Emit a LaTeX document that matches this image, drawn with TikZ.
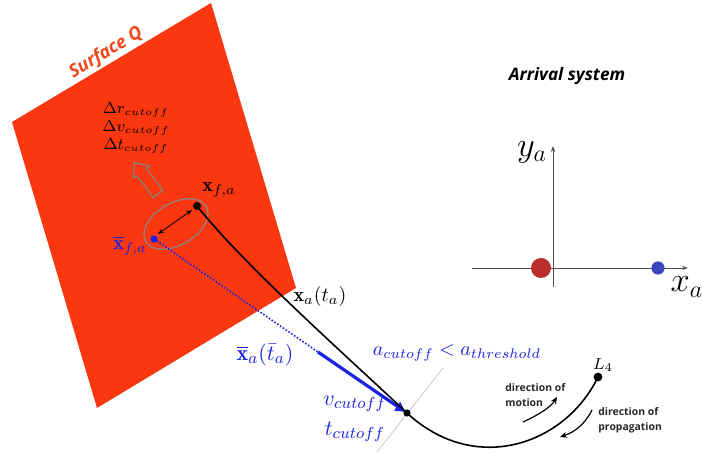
\documentclass[tikz,border=0pt]{standalone}
\usepackage{fontspec}
\usepackage{amsmath}
\newfontfamily\osans{Open Sans}
\usetikzlibrary{arrows.meta}
\definecolor{surf}{RGB}{250,55,15}
\definecolor{surftxt}{RGB}{240,70,25}
\definecolor{lblue}{RGB}{25,35,225}
\definecolor{dred}{RGB}{185,45,45}
\definecolor{dotblue}{RGB}{60,70,190}
\tikzset{
  lbl/.style={inner sep=0pt},
  bluelbl/.style={inner sep=0pt,text=lblue},
  sanslbl/.style={inner sep=0pt,align=left,text={rgb,255:red,40;green,40;blue,40},font=\osans\bfseries\fontsize{5.2}{7.4}\selectfont},
  axis/.style={draw={rgb,255:red,80;green,80;blue,80},line width=0.45pt,-{Stealth[length=3pt,width=2.2pt]}},
  dirarrow/.style={draw=black,line width=0.6pt,-{Stealth[length=3.5pt,width=3pt]}},
}
\begin{document}
\begin{tikzpicture}[x=0.5pt,y=-0.5pt]
\useasboundingbox (0,0) rectangle (702,453);
% surface
\fill[surf] (211,3) -- (12,122) -- (97,408) -- (296,288) -- cycle;
\node[lbl,rotate=31,text=surftxt,font=\osans\bfseries\itshape\fontsize{9}{10}\selectfont] (surfq) at (106,53) {Surface Q};
\node[lbl,align=center,font=\fontsize{7.6}{9}\selectfont] (deltas) at (136,128) {$\Delta r_{cutoff}$\\$\Delta v_{cutoff}$\\$\Delta t_{cutoff}$};
% hollow arrow
\draw[draw={rgb,255:red,130;green,130;blue,130},line width=0.6pt,line join=miter]
  (153.2,197.6) -- (136.7,175.6) -- (133.5,178) -- (134.3,162.4) -- (149.5,166) -- (146.3,168.4) -- (162.8,190.4) -- cycle;
% ellipse
\coordinate (ec) at (176,224);
\draw[draw={rgb,255:red,135;green,135;blue,135},line width=0.6pt,rotate around={30:(ec)}] (ec) ellipse [x radius=17.5pt,y radius=10.5pt];
% points
\coordinate (xf) at (197,206);
\coordinate (xbf) at (154,239);
\coordinate (cut) at (407,413);
\coordinate (l4) at (598,377);
\coordinate (bstart) at (318,352);
\coordinate (g1) at (377,452);
\coordinate (g2) at (443,368);
% gray cut line
\draw[draw={rgb,255:red,200;green,200;blue,200},line width=0.4pt] (g1) -- (g2);
% blue dotted and thick arrow
\draw[lblue,line width=0.8pt,dash pattern=on 0.8pt off 0.9pt] (xbf) -- (bstart);
\draw[lblue,line width=1.6pt,-{Triangle[length=5pt,width=5pt]},shorten >=1pt] (bstart) -- (cut);
% black trajectory
\draw[black,line width=0.8pt] (xf) .. controls (245,266) and (340,350) .. (cut)
  .. controls (475,476) and (565,445) .. (l4);
% double arrow
\coordinate (da1) at (192,210);
\coordinate (da2) at (158,234);
\draw[black,line width=0.4pt,{Stealth[length=3pt,width=2.2pt]}-{Stealth[length=3pt,width=2.2pt]}] (da2) -- (da1);
% dots
\fill[black] (xf) circle (2pt);
\fill[lblue] (xbf) circle (1.8pt);
\fill[black] (cut) circle (1.8pt);
\fill[black] (l4) circle (2.2pt);
% labels
\node[lbl] (xfa) at (219,190) {$\mathbf{x}_{f,a}$};
\node[bluelbl] (xbfa) at (130,246) {$\overline{\mathbf{x}}_{f,a}$};
\node[lbl] (xata) at (320,297) {$\mathbf{x}_a(t_a)$};
\node[bluelbl,font=\fontsize{11}{12}\selectfont] (xbta) at (265,355) {$\overline{\mathbf{x}}_a(\bar{t}_a)$};
\node[bluelbl] (acut) at (457,353) {$a_{cutoff}<a_{threshold}$};
\node[bluelbl,font=\fontsize{11}{12}\selectfont] (vcut) at (355,404) {$v_{cutoff}$};
\node[bluelbl,font=\fontsize{11}{12}\selectfont] (tcut) at (355,432) {$t_{cutoff}$};
\node[lbl,font=\fontsize{8.5}{10}\selectfont] (l4lbl) at (603,365) {$L_4$};
% direction arrows
\node[sanslbl,anchor=west] (motion) at (505,395) {direction of\\motion};
\node[sanslbl,anchor=west] (prop) at (598,420) {direction of\\propagation};
\coordinate (m1) at (523,422);
\coordinate (m2) at (557,397);
\coordinate (p1) at (592,410);
\coordinate (p2) at (560,437);
\draw[dirarrow] (m1) .. controls (538,415) and (550,408) .. (m2);
\draw[dirarrow] (p1) .. controls (585,424) and (575,432) .. (p2);
% arrival system
\node[lbl,font=\osans\bfseries\itshape\fontsize{8.6}{10}\selectfont] (arr) at (567,76) {Arrival system};
\coordinate (ax0) at (472,268);
\coordinate (ax1) at (688,268);
\coordinate (ay0) at (553,287);
\coordinate (ay1) at (553,146);
\draw[axis] (ax0) -- (ax1);
\draw[axis] (ay0) -- (ay1);
\fill[dred] (541,268) circle (5pt);
\fill[dotblue] (658,268) circle (3.3pt);
\node[lbl,font=\fontsize{17}{18}\selectfont] (ya) at (532,152) {$y_a$};
\node[lbl,font=\fontsize{17}{18}\selectfont] (xa) at (687,287) {$x_a$};
\end{tikzpicture}
\end{document}
